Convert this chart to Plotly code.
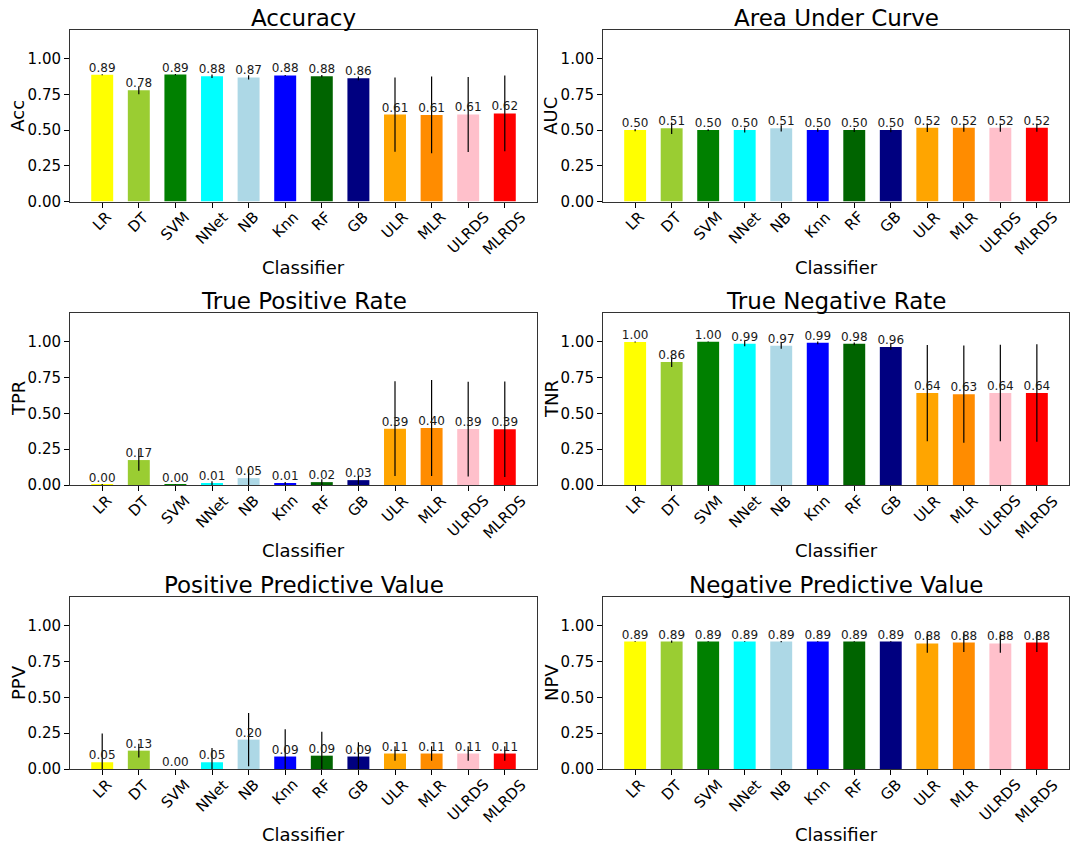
import plotly.graph_objects as go

classifiers = ["LR", "DT", "SVM", "NNet", "NB", "Knn", "RF", "GB", "ULR", "MLR", "ULRDS", "MLRDS"]
bar_colors = ["yellow", "yellowgreen", "green", "cyan", "lightblue", "blue",
              "darkgreen", "navy", "orange", "darkorange", "pink", "red"]

acc = [0.887, 0.778, 0.888, 0.876, 0.868, 0.882, 0.877, 0.862, 0.608, 0.606, 0.609, 0.616]
acc_err = [0.004, 0.028, 0.004, 0.012, 0.015, 0.004, 0.008, 0.013, 0.26, 0.268, 0.262, 0.265]

auc = [0.500, 0.513, 0.500, 0.500, 0.512, 0.500, 0.500, 0.500, 0.516, 0.516, 0.516, 0.516]
auc_err = [0.008, 0.04, 0.006, 0.018, 0.022, 0.012, 0.014, 0.016, 0.03, 0.028, 0.028, 0.028]

tpr = [0.003, 0.174, 0.001, 0.012, 0.048, 0.011, 0.02, 0.034, 0.393, 0.398, 0.39, 0.389]
tpr_err = [0.004, 0.075, 0.002, 0.015, 0.065, 0.01, 0.02, 0.03, 0.33, 0.335, 0.33, 0.333]

tnr = [0.998, 0.859, 0.999, 0.986, 0.972, 0.992, 0.985, 0.963, 0.641, 0.634, 0.642, 0.642]
tnr_err = [0.003, 0.035, 0.003, 0.018, 0.022, 0.01, 0.01, 0.02, 0.335, 0.34, 0.337, 0.34]

ppv = [0.047, 0.128, 0.0, 0.047, 0.205, 0.087, 0.093, 0.087, 0.108, 0.108, 0.108, 0.108]
ppv_err = [0.2, 0.048, 0.0, 0.1, 0.185, 0.19, 0.167, 0.1, 0.05, 0.05, 0.05, 0.05]

npv = [0.889, 0.889, 0.889, 0.889, 0.889, 0.889, 0.889, 0.889, 0.876, 0.882, 0.876, 0.882]
npv_err = [0.003, 0.008, 0.003, 0.003, 0.004, 0.003, 0.003, 0.003, 0.065, 0.065, 0.065, 0.065]

yticks = [0.0, 0.25, 0.5, 0.75, 1.0]
ytick_labels = ["0.00", "0.25", "0.50", "0.75", "1.00"]

panels = [
    ("Accuracy", "Acc", acc, acc_err),
    ("Area Under Curve", "AUC", auc, auc_err),
    ("True Positive Rate", "TPR", tpr, tpr_err),
    ("True Negative Rate", "TNR", tnr, tnr_err),
    ("Positive Predictive Value", "PPV", ppv, ppv_err),
    ("Negative Predictive Value", "NPV", npv, npv_err),
]

W, H = 1070, 846
FONT = "DejaVu Sans"
col_px = [(70, 537), (603, 1069)]
row_px = [(30, 201.5), (313, 485), (597, 769)]

fig = go.Figure()
annotations = []
layout_axes = {}

for i, (title, ylab, vals, errs) in enumerate(panels):
    r, c = divmod(i, 2)
    n = i + 1
    xa = "x" if n == 1 else f"x{n}"
    ya = "y" if n == 1 else f"y{n}"
    xkey = "xaxis" if n == 1 else f"xaxis{n}"
    ykey = "yaxis" if n == 1 else f"yaxis{n}"

    fig.add_trace(go.Bar(
        x=classifiers, y=vals, marker=dict(color=bar_colors, line=dict(width=0)),
        error_y=dict(type="data", array=errs, visible=True, color="black",
                     thickness=1.2, width=0),
        xaxis=xa, yaxis=ya, showlegend=False, hoverinfo="x+y",
    ))
    fig.add_trace(go.Scatter(
        x=classifiers, y=vals, mode="text",
        text=[f"{v:.2f}" for v in vals], textposition="top center",
        textfont=dict(family=FONT, size=12, color="#1a1a1a"),
        xaxis=xa, yaxis=ya, showlegend=False, hoverinfo="skip", cliponaxis=False,
    ))

    x0, x1 = col_px[c]
    y0, y1 = row_px[r]
    layout_axes[xkey] = dict(
        domain=[x0 / W, x1 / W], anchor=ya, type="category",
        range=[-0.88, 11.88], showticklabels=False,
        ticks="outside", ticklen=5, tickwidth=1, tickcolor="black",
        showline=True, linecolor="#333333", linewidth=1, mirror=True,
        showgrid=False, zeroline=False, automargin=False, fixedrange=True,
    )
    layout_axes[ykey] = dict(
        domain=[1 - y1 / H, 1 - y0 / H], anchor=xa, range=[0, 1.2],
        tickvals=yticks, ticktext=ytick_labels,
        ticks="outside", ticklen=5, tickwidth=1, tickcolor="black",
        tickfont=dict(family=FONT, size=15, color="black"),
        showline=True, linecolor="#333333", linewidth=1, mirror=True,
        showgrid=False, zeroline=False, automargin=False, fixedrange=True,
    )

    # subplot title
    annotations.append(dict(
        text=title, xref=f"{xa} domain", yref=f"{ya} domain", x=0.5, y=1,
        xanchor="center", yanchor="bottom", yshift=-3, showarrow=False,
        font=dict(family=FONT, size=23, color="black"),
    ))
    # y axis title
    annotations.append(dict(
        text=ylab, xref=f"{xa} domain", yref=f"{ya} domain", x=0, y=0.5,
        xanchor="center", yanchor="middle", xshift=-52, textangle=-90,
        showarrow=False, font=dict(family=FONT, size=18, color="black"),
    ))
    # x axis title
    annotations.append(dict(
        text="Classifier", xref=f"{xa} domain", yref=f"{ya} domain", x=0.5, y=0,
        xanchor="center", yanchor="top", yshift=-53, showarrow=False,
        font=dict(family=FONT, size=18, color="black"),
    ))
    # rotated category labels
    for cl in classifiers:
        annotations.append(dict(
            text=cl, xref=xa, yref=f"{ya} domain", x=cl, y=0,
            xanchor="center", yanchor="top", yshift=-4, textangle=-45,
            showarrow=False, font=dict(family=FONT, size=15, color="black"),
        ))

fig.update_layout(
    width=W, height=H, margin=dict(l=0, r=0, t=0, b=0),
    paper_bgcolor="white", plot_bgcolor="white",
    bargap=0.4, font=dict(family=FONT, color="black"),
    annotations=annotations, **layout_axes,
)

fig.write_html(
    "out.html",
    config={"displayModeBar": False},
    post_script="document.body.style.margin='0';document.body.style.overflow='hidden';",
)
